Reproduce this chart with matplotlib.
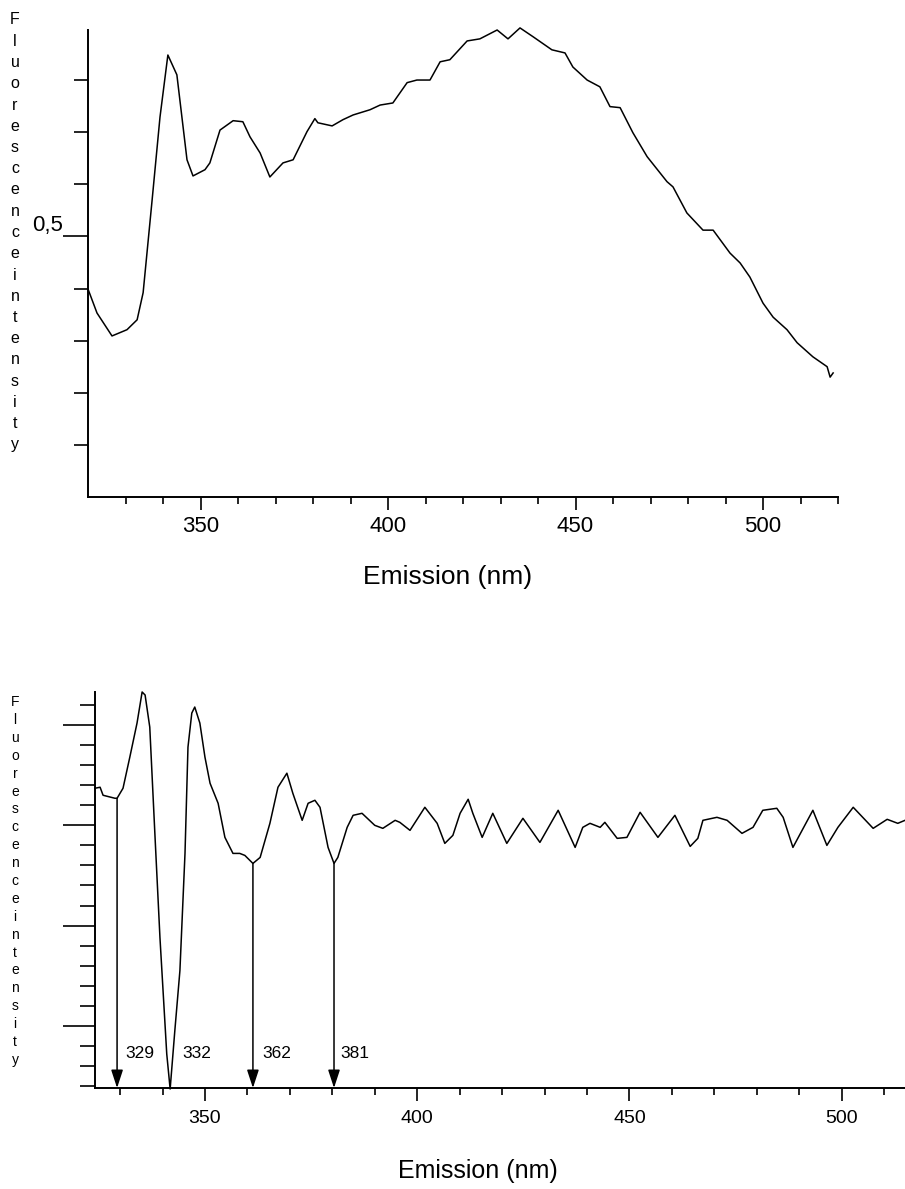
import numpy as np
import matplotlib
matplotlib.use("Agg")
import matplotlib.pyplot as plt

NARROW = ["Liberation Sans Narrow", "Liberation Sans", "DejaVu Sans"]
REGULAR = ["Liberation Sans", "DejaVu Sans"]

# emission spectrum (top panel)
wl_top = [320.0, 322.4, 326.4, 330.4, 333.1, 334.7, 337.1, 339.2, 341.3, 343.7,
          346.4, 348.0, 351.2, 352.5, 355.2, 358.7, 361.3, 363.2, 365.9, 368.5,
          372.0, 374.7, 378.4, 380.5, 381.3, 385.1, 388.0, 390.7, 395.2, 397.9,
          401.3, 405.1, 407.7, 411.2, 413.9, 416.5, 421.1, 424.5, 429.1, 432.0,
          435.2, 438.7, 443.7, 447.2, 449.3, 453.1, 456.5, 459.2, 461.9, 465.3,
          469.1, 474.4, 476.0, 479.7, 484.0, 486.7, 491.2, 493.9, 496.5, 500.0,
          502.7, 506.4, 509.1, 513.3, 517.1, 517.9, 518.7]
int_top = [0.399, 0.353, 0.309, 0.321, 0.340, 0.392, 0.570, 0.729, 0.848, 0.810,
           0.647, 0.616, 0.628, 0.641, 0.704, 0.722, 0.720, 0.691, 0.660, 0.614,
           0.641, 0.647, 0.701, 0.726, 0.718, 0.712, 0.724, 0.733, 0.743, 0.752,
           0.756, 0.795, 0.800, 0.800, 0.835, 0.839, 0.875, 0.879, 0.896, 0.879,
           0.900, 0.883, 0.858, 0.852, 0.825, 0.800, 0.787, 0.749, 0.747, 0.699,
           0.653, 0.605, 0.595, 0.545, 0.512, 0.512, 0.468, 0.449, 0.422, 0.372,
           0.345, 0.321, 0.296, 0.269, 0.250, 0.230, 0.238]

# derivative spectrum (bottom panel)
wl_bot = [324.1, 325.3, 326.0, 328.8, 329.3, 330.7, 332.3, 333.0, 334.0, 335.2,
          335.9, 337.0, 338.2, 339.4, 341.0, 341.8, 342.9, 344.1, 345.3, 346.0,
          346.9, 347.6, 348.8, 350.0, 351.2, 353.1, 354.7, 356.6, 358.2, 359.4,
          361.3, 363.0, 365.3, 367.2, 369.3, 370.7, 372.9, 374.3, 375.9, 377.1,
          379.0, 380.4, 381.3, 383.5, 384.9, 387.0, 390.0, 391.9, 394.8, 395.9,
          398.3, 401.8, 404.7, 406.5, 408.4, 410.1, 412.0, 413.1, 415.3, 417.8,
          421.1, 424.9, 428.9, 433.2, 437.2, 439.0, 440.7, 443.1, 444.2, 447.1,
          449.4, 452.5, 456.7, 460.7, 464.3, 466.1, 467.3, 470.6, 473.0, 476.5,
          479.1, 481.4, 484.7, 486.2, 488.5, 493.2, 496.5, 499.1, 502.7, 507.4,
          510.7, 513.2, 514.9]
int_bot = [0.037, 0.038, 0.030, 0.027, 0.027, 0.037, 0.068, 0.082, 0.102, 0.133,
           0.130, 0.098, -0.008, -0.112, -0.228, -0.263, -0.205, -0.145, -0.028, 0.078,
           0.112, 0.118, 0.102, 0.068, 0.042, 0.022, -0.012, -0.028, -0.028, -0.030,
           -0.038, -0.032, 0.002, 0.038, 0.052, 0.032, 0.005, 0.022, 0.025, 0.018,
           -0.022, -0.038, -0.032, -0.002, 0.010, 0.012, 0.000, -0.003, 0.005, 0.003,
           -0.005, 0.018, 0.002, -0.018, -0.010, 0.012, 0.026, 0.012, -0.012, 0.012,
           -0.018, 0.007, -0.017, 0.015, -0.022, -0.002, 0.002, -0.002, 0.003, -0.013,
           -0.012, 0.013, -0.012, 0.010, -0.021, -0.013, 0.005, 0.008, 0.005, -0.008,
           -0.002, 0.015, 0.017, 0.008, -0.022, 0.015, -0.020, -0.002, 0.018, -0.003,
           0.006, 0.002, 0.005]

arrow_wl = [329.3, 361.3, 380.4]
peak_labels = ["329", "332", "362", "381"]
peak_label_wl = [331.2, 344.6, 363.6, 381.8]
peak_label_y = -0.228


def stacked_label(fig, x, y_top, y_bot, size):
    letters = "Fluorescenceintensity"
    for ch, yy in zip(letters, np.linspace(y_top, y_bot, len(letters))):
        fig.text(x, yy, ch, ha="center", va="center", fontsize=size,
                 family=REGULAR)


fig = plt.figure(figsize=(9.05, 11.89), dpi=100)

# ---- top panel
ax1 = fig.add_axes([88 / 905, 1 - 497 / 1189, 750 / 905, 467 / 1189])
ax1.plot(wl_top, int_top, color="black", lw=1.1, clip_on=False)
ax1.set_xlim(320, 520)
ax1.set_ylim(0, 0.896)
for s in ["top", "right"]:
    ax1.spines[s].set_visible(False)
for s in ["left", "bottom"]:
    ax1.spines[s].set_linewidth(1.4)
ax1.set_xticks([350, 400, 450, 500])
ax1.set_xticks(np.arange(330, 521, 10), minor=True)
ax1.set_yticks([0.5], ["0,5"])
ax1.set_yticks(np.arange(0.1, 0.85, 0.1), minor=True)
ax1.tick_params(axis="x", which="major", length=9, width=1.2, pad=5, labelsize=16)
ax1.tick_params(axis="x", which="minor", length=5, width=1.2)
ax1.tick_params(axis="y", which="major", length=18, width=1.2, pad=0, labelsize=16)
ax1.tick_params(axis="y", which="minor", length=10, width=1.2)
for t in ax1.get_xticklabels() + ax1.get_yticklabels():
    t.set_family(NARROW)
for t in ax1.get_yticklabels():
    t.set_verticalalignment("bottom")
ax1.set_xlabel("Emission (nm)", fontsize=19, family=NARROW)
ax1.xaxis.set_label_coords((447.5 - 88) / 750, -0.145)
stacked_label(fig, 15 / 905, 1 - 20 / 1189, 1 - 445 / 1189, 11.5)

# ---- bottom panel
ax2 = fig.add_axes([95 / 905, 1 - 1088 / 1189, 810 / 905, 396 / 1189])
ax2.plot(wl_bot, int_bot, color="black", lw=1.1, clip_on=False)
ax2.set_xlim(324.1, 514.9)
ax2.set_ylim(-0.262, 0.133)
for s in ["top", "right"]:
    ax2.spines[s].set_visible(False)
for s in ["left", "bottom"]:
    ax2.spines[s].set_linewidth(1.4)
ax2.set_xticks([350, 400, 450, 500])
ax2.set_xticks(np.arange(330, 515, 10), minor=True)
ax2.set_yticks([-0.2, -0.1, 0.0, 0.1], [])
ax2.set_yticks(np.arange(-0.26, 0.125, 0.02), minor=True)
ax2.tick_params(axis="x", which="major", length=9, width=1.2, pad=7, labelsize=14)
ax2.tick_params(axis="x", which="minor", length=5, width=1.2)
ax2.tick_params(axis="y", which="major", length=23, width=1.2)
ax2.tick_params(axis="y", which="minor", length=11, width=1.2)
for t in ax2.get_xticklabels():
    t.set_family(REGULAR)
ax2.set_xlabel("Emission (nm)", fontsize=18, family=REGULAR)
ax2.xaxis.set_label_coords((478 - 95) / 810, -0.18)

y0 = ax2.get_ylim()[0]
for xa in arrow_wl:
    ya = np.interp(xa, wl_bot, int_bot)
    ax2.annotate("", xy=(xa, y0), xytext=(xa, ya),
                 arrowprops=dict(arrowstyle="-|>,head_length=0.55,head_width=0.18",
                                 color="black", lw=1.1, mutation_scale=20,
                                 shrinkA=0, shrinkB=0))
for lab, xl in zip(peak_labels, peak_label_wl):
    ax2.text(xl, peak_label_y, lab, ha="left", va="center", fontsize=12.5,
             family=REGULAR)
stacked_label(fig, 15 / 905, 1 - 702 / 1189, 1 - 1060 / 1189, 10)

fig.savefig("out.png", dpi=100)
